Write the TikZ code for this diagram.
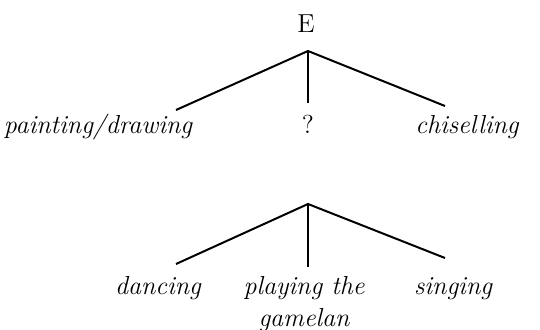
\documentclass[tikz,border=0pt]{standalone}
\usepackage{tikz}
\usetikzlibrary{positioning}

\begin{document}
\begin{tikzpicture}[x=0.5pt,y=-0.5pt,
	every node/.style={font=\fontsize{13}{16}\selectfont\itshape,inner sep=0pt,anchor=base},
	branch/.style={line width=1pt}
	]
	\useasboundingbox (0,0) rectangle (540,330);
	% upper tree
	\node[font=\fontsize{13}{16}\selectfont](e) at (306,33){E};
	\coordinate (top) at (308,51);
	\coordinate (ta) at (176,110);
	\coordinate (tb) at (308,103);
	\coordinate (tc) at (445,106);
	\node(paint) at (98,134){painting/drawing};
	\node[font=\fontsize{13}{16}\selectfont](q) at (308,134){?};
	\node(chisel) at (467,134){chiselling};
	\draw[branch] (ta) -- (top) -- (tc);
	\draw[branch] (top) -- (tb);
	% lower tree
	\coordinate (low) at (308,204);
	\coordinate (la) at (176,264);
	\coordinate (lb) at (308,267);
	\coordinate (lc) at (445,258);
	\node(dance) at (158,295){dancing};
	\node[align=center](play) at (304,327){playing the\\gamelan};
	\node(sing) at (453,295){singing};
	\draw[branch] (la) -- (low) -- (lc);
	\draw[branch] (low) -- (lb);
\end{tikzpicture}
\end{document}
